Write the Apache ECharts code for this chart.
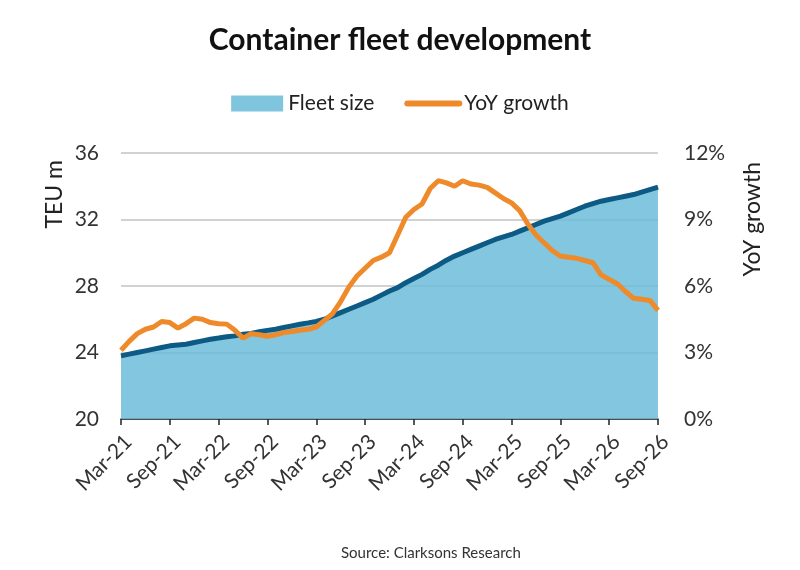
<!DOCTYPE html>
<html>
<head>
<meta charset="utf-8">
<script src="https://cdn.jsdelivr.net/npm/echarts@6/dist/echarts.min.js"></script>
<style>
  html, body { margin: 0; padding: 0; background: #fff; }
  #chart { width: 800px; height: 570px; }
</style>
</head>
<body>
<div id="chart"></div>
<script>
// monthly, Mar-21 .. Sep-26
const monthNames = ['Jan','Feb','Mar','Apr','May','Jun','Jul','Aug','Sep','Oct','Nov','Dec']
const months = []
for (let y = 21, m = 2; !(y === 26 && m === 9); m++) {
    if (m === 12) { m = 0; y++ }
    months.push(monthNames[m] + '-' + y)
}

// fleet size, TEU m
const fleetSize = [
    23.8, 23.9, 24.0, 24.1, 24.2, 24.3, 24.4, 24.45, 24.5, 24.6, 24.7, 24.8,
    24.87, 24.95, 25.0, 25.1, 25.15, 25.25, 25.33, 25.4, 25.5, 25.6, 25.7, 25.78,
    25.87, 26.0, 26.2, 26.4, 26.6, 26.8, 27.0, 27.2, 27.45, 27.7, 27.9, 28.2,
    28.45, 28.7, 29.0, 29.25, 29.55, 29.8, 30.0, 30.2, 30.4, 30.6, 30.8, 30.95,
    31.1, 31.3, 31.5, 31.7, 31.9, 32.05, 32.2, 32.4, 32.6, 32.8, 32.95, 33.1,
    33.2, 33.3, 33.4, 33.5, 33.65, 33.8, 33.95
]

// YoY growth, %
const yoyGrowth = [
    3.1, 3.5, 3.85, 4.05, 4.15, 4.4, 4.35, 4.1, 4.3, 4.55, 4.5, 4.35,
    4.3, 4.28, 4.0, 3.65, 3.85, 3.8, 3.73, 3.8, 3.9, 3.95, 4.0, 4.05,
    4.15, 4.45, 4.75, 5.3, 5.95, 6.45, 6.8, 7.15, 7.3, 7.5, 8.3, 9.1,
    9.45, 9.7, 10.4, 10.75, 10.65, 10.5, 10.75, 10.6, 10.55, 10.45, 10.2, 9.95,
    9.75, 9.4, 8.8, 8.3, 7.95, 7.6, 7.35, 7.3, 7.25, 7.15, 7.05, 6.5,
    6.3, 6.1, 5.75, 5.45, 5.4, 5.35, 4.9
]

const font = 'Lato'
const myChart = echarts.init(document.getElementById('chart'))

const option = {
    backgroundColor: '#fff',
    textStyle: { fontFamily: font },
    title: {
        text: 'Container fleet development',
        left: 'center',
        top: 20,
        textStyle: { fontFamily: font, fontSize: 30, fontWeight: 'bold', color: '#111' }
    },
    legend: {
        top: 88,
        left: 'center',
        itemWidth: 52,
        itemHeight: 16,
        itemGap: 30,
        textStyle: { fontSize: 21, color: '#222' },
        data: [
            { name: 'Fleet size', icon: 'rect', itemStyle: { color: '#80c5de' }, lineStyle: { width: 0 } },
            { name: 'YoY growth', itemStyle: { opacity: 0 }, lineStyle: { width: 6, cap: 'round' } }
        ]
    },
    grid: { left: 121, right: 142, top: 153, bottom: 151 },
    xAxis: {
        type: 'category',
        boundaryGap: false,
        data: months,
        axisLine: { lineStyle: { color: '#222', width: 1.5 } },
        axisTick: { interval: 5, length: 6, lineStyle: { color: '#222', width: 1.5 } },
        axisLabel: { interval: 5, rotate: 45, fontSize: 21, color: '#333', margin: 12, verticalAlign: 'top' }
    },
    yAxis: [
        {
            type: 'value',
            min: 20, max: 36, interval: 4,
            axisLine: { show: false },
            axisTick: { show: false },
            axisLabel: { fontSize: 21, color: '#333', margin: 22 },
            splitLine: { lineStyle: { color: '#d2d2d2', width: 2 } }
        },
        {
            type: 'value',
            min: 0, max: 12, interval: 3,
            axisLine: { show: false },
            axisTick: { show: false },
            axisLabel: { fontSize: 21, color: '#333', margin: 26, formatter: '{value}%' },
            splitLine: { show: false }
        }
    ],
    graphic: [
        {
            type: 'text', left: 43, top: 160, rotation: Math.PI / 2,
            style: { text: 'TEU m', fontFamily: font, fontSize: 23, fill: '#222' }
        },
        {
            type: 'text', left: 741, top: 162, rotation: Math.PI / 2,
            style: { text: 'YoY growth', fontFamily: font, fontSize: 23, fill: '#222' }
        },
        {
            type: 'text', left: 341, top: 546,
            style: { text: 'Source: Clarksons Research', fontFamily: font, fontSize: 15, fill: '#333' }
        }
    ],
    series: [
        {
            name: 'Fleet size',
            type: 'line',
            yAxisIndex: 0,
            data: fleetSize,
            symbol: 'none',
            lineStyle: { color: '#0d5a84', width: 5 },
            itemStyle: { color: '#80c5de' },
            areaStyle: { color: 'rgba(108,188,217,0.85)', opacity: 1 },
            z: 2
        },
        {
            name: 'YoY growth',
            type: 'line',
            yAxisIndex: 1,
            data: yoyGrowth,
            symbol: 'none',
            lineStyle: { color: '#ee8a2a', width: 5 },
            itemStyle: { color: '#ee8a2a' },
            z: 3
        }
    ]
}
myChart.setOption(option)
</script>
</body>
</html>
